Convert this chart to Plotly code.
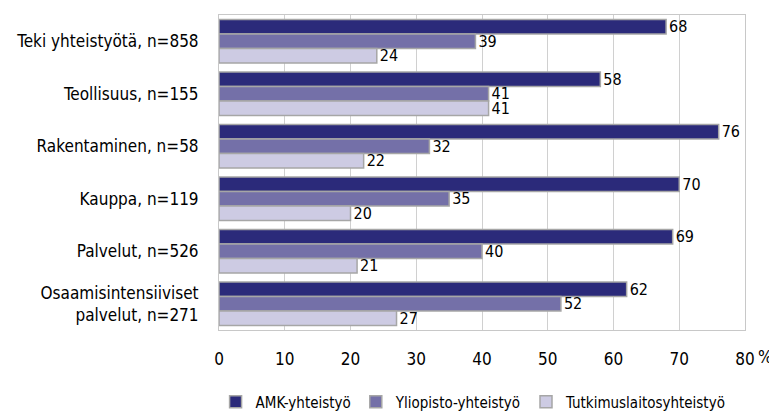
import plotly.graph_objects as go

categories = [
    "Teki yhteistyötä, n=858",
    "Teollisuus, n=155",
    "Rakentaminen, n=58",
    "Kauppa, n=119",
    "Palvelut, n=526",
    "Osaamisintensiiviset<br>palvelut, n=271",
]
amk = [68, 58, 76, 70, 69, 62]
yliopisto = [39, 41, 32, 35, 40, 52]
tutkimus = [24, 41, 22, 20, 21, 27]

series = [
    ("AMK-yhteistyö", amk, "#2B2A7A"),
    ("Yliopisto-yhteistyö", yliopisto, "#7470A8"),
    ("Tutkimuslaitosyhteistyö", tutkimus, "#CDCBE3"),
]

font_family = "Liberation Sans Narrow, DejaVu Sans Condensed, sans-serif"

fig = go.Figure()
for name, vals, color in series:
    fig.add_trace(go.Bar(
        y=categories,
        x=vals,
        name=name,
        orientation="h",
        marker=dict(color=color, line=dict(color="#A6A6A6", width=1.5)),
        text=vals,
        textposition="outside",
        constraintext="none",
        textfont=dict(size=16, color="#000000"),
        cliponaxis=False,
    ))

# "%" unit after the last tick label
fig.add_annotation(
    text="%", x=1.0, xref="paper", xanchor="left", xshift=11,
    y=0, yref="paper", yanchor="top", yshift=-15,
    showarrow=False, font=dict(size=17, color="#000000"),
)

# page body adds an 8px margin, so the figure is sized 8px smaller
fig.update_layout(
    width=769,
    height=404,
    barmode="group",
    bargap=0.17,
    bargroupgap=0,
    font=dict(family=font_family, size=17, color="#000000"),
    paper_bgcolor="#FFFFFF",
    plot_bgcolor="#FFFFFF",
    margin=dict(l=211, r=32, t=7, b=82),
    showlegend=True,
    legend=dict(
        orientation="h",
        xref="paper", yref="container",
        x=0.484, xanchor="center",
        y=0.025, yanchor="middle",
        font=dict(size=15),
        traceorder="normal",
    ),
    xaxis=dict(
        range=[0, 80],
        dtick=10,
        showgrid=True,
        gridcolor="#D0D0D0",
        gridwidth=1,
        showline=True,
        linecolor="#C8C8C8",
        mirror=True,
        zeroline=False,
        ticks="",
        ticklabelstandoff=14,
        automargin=False,
    ),
    yaxis=dict(
        autorange="reversed",
        showline=True,
        linecolor="#C8C8C8",
        mirror=True,
        ticks="",
        ticklabelstandoff=16,
        automargin=False,
    ),
)

fig.write_html("out.html")
